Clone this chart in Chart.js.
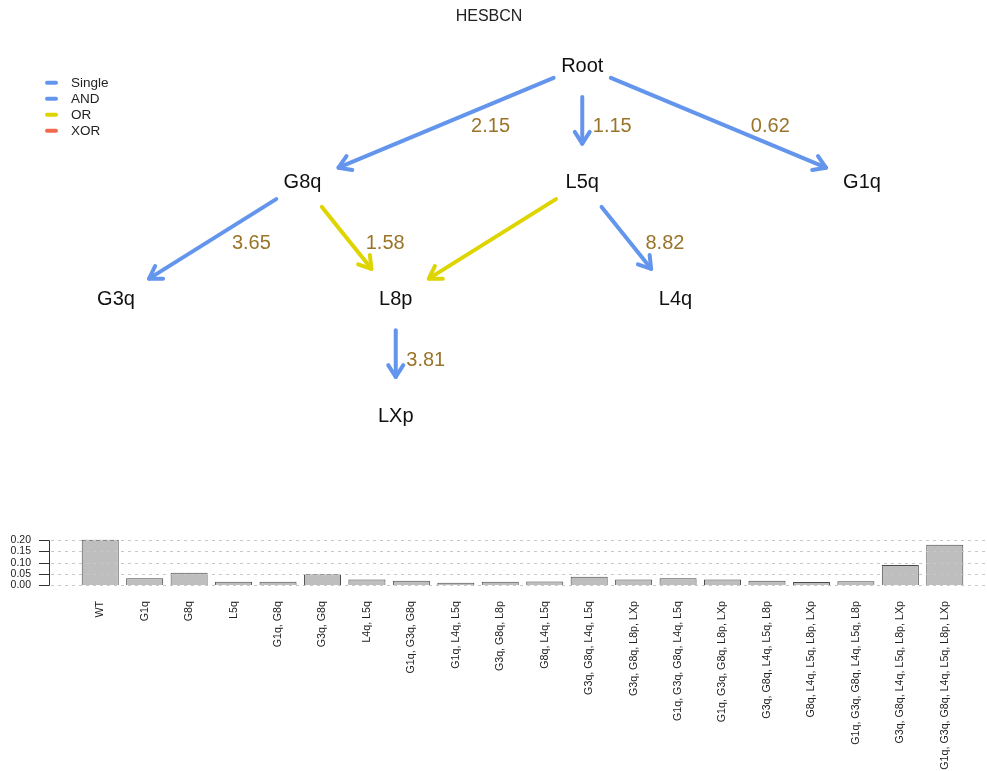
<!DOCTYPE html>
<html>
<head>
<meta charset="utf-8">
<script src="https://cdn.jsdelivr.net/npm/chart.js@4"></script>
<style>
  html, body { margin: 0; padding: 0; background: #fff; }
  #wrap { position: relative; width: 987px; height: 771px; overflow: hidden; }
  #dag { position: absolute; left: 0; top: 0; }
  #bars { position: absolute; left: 0; top: 480px; }
</style>
</head>
<body>
<div id="wrap">
  <canvas id="dag" width="987" height="480"></canvas>
  <canvas id="bars" width="987" height="291"></canvas>
</div>
<script>
// ---- HESBCN transition graph ----
const nodeNames = ['Root', 'G8q', 'L5q', 'G1q', 'G3q', 'L8p', 'L4q', 'LXp'];
const nodeLevel = [0, 1, 1, 1, 2, 2, 2, 3];          // depth in the DAG
const nodeCol   = [2.5, 1, 2.5, 4, 0, 1.5, 3, 1.5];  // layout column

const edgeFrom   = ['Root', 'Root', 'Root', 'G8q', 'G8q', 'L5q', 'L5q', 'L8p'];
const edgeTo     = ['G8q',  'L5q',  'G1q',  'G3q', 'L8p', 'L8p', 'L4q', 'LXp'];
const edgeType   = ['Single', 'Single', 'Single', 'Single', 'OR', 'OR', 'Single', 'Single'];
const edgeLambda = [2.15, 1.15, 0.62, 3.65, 1.58, null, 8.82, 3.81];

const relationTypes = ['Single', 'AND', 'OR', 'XOR'];
const relationColors = ['#6495ED', '#6495ED', '#DDD400', '#F4694C'];

// ---- genotype probabilities ----
const genotypes = [
  'WT', 'G1q', 'G8q', 'L5q', 'G1q, G8q', 'G3q, G8q', 'L4q, L5q', 'G1q, G3q, G8q',
  'G1q, L4q, L5q', 'G3q, G8q, L8p', 'G8q, L4q, L5q', 'G3q, G8q, L4q, L5q',
  'G3q, G8q, L8p, LXp', 'G1q, G3q, G8q, L4q, L5q', 'G1q, G3q, G8q, L8p, LXp',
  'G3q, G8q, L4q, L5q, L8p', 'G8q, L4q, L5q, L8p, LXp', 'G1q, G3q, G8q, L4q, L5q, L8p',
  'G3q, G8q, L4q, L5q, L8p, LXp', 'G1q, G3q, G8q, L4q, L5q, L8p, LXp'
];
const genotypeProb = [
  0.203, 0.030, 0.055, 0.015, 0.014, 0.048, 0.025, 0.019,
  0.010, 0.015, 0.016, 0.037, 0.025, 0.030, 0.025,
  0.019, 0.013, 0.017, 0.089, 0.180
];
const probTicks = [0, 0.05, 0.10, 0.15, 0.20];

const FONT = "'Liberation Sans', Arial, Helvetica, sans-serif";

// Draws arrows, edge rates, node names and the relation legend
const dagPlugin = {
  id: 'dagDraw',
  afterDatasetsDraw(chart) {
    const { ctx } = chart;
    const xs = chart.scales.x, ys = chart.scales.y;
    const pos = name => {
      const i = nodeNames.indexOf(name);
      return [xs.getPixelForValue(nodeCol[i]), ys.getPixelForValue(nodeLevel[i])];
    };
    ctx.save();
    ctx.lineCap = 'round';
    ctx.lineJoin = 'round';
    edgeFrom.forEach((from, i) => {
      const [x0, y0] = pos(from);
      const [x1, y1] = pos(edgeTo[i]);
      const dx = x1 - x0, dy = y1 - y0;
      const len = Math.hypot(dx, dy);
      const ux = dx / len, uy = dy / len;
      const sx = x0 + ux * 31, sy = y0 + uy * 31;
      const ex = x1 - ux * 39, ey = y1 - uy * 39;
      ctx.strokeStyle = relationColors[relationTypes.indexOf(edgeType[i])];
      ctx.lineWidth = 4;
      ctx.beginPath();
      ctx.moveTo(sx, sy);
      ctx.lineTo(ex, ey);
      ctx.stroke();
      // open arrow head
      const ang = Math.atan2(uy, ux);
      const arm = 14, spread = Math.PI * 0.18;
      ctx.beginPath();
      ctx.moveTo(ex - arm * Math.cos(ang - spread), ey - arm * Math.sin(ang - spread));
      ctx.lineTo(ex, ey);
      ctx.lineTo(ex - arm * Math.cos(ang + spread), ey - arm * Math.sin(ang + spread));
      ctx.stroke();
      // rate label to the right of the edge midpoint
      if (edgeLambda[i] !== null) {
        const mx = (x0 + x1) / 2, my = (y0 + y1) / 2;
        ctx.fillStyle = '#9a7428';
        ctx.font = '20px ' + FONT;
        ctx.textAlign = 'center';
        ctx.textBaseline = 'middle';
        ctx.fillText(edgeLambda[i].toFixed(2), mx + 30 + Math.abs(dx) * 0.065, my + 2.5);
      }
    });
    // node names
    ctx.fillStyle = '#111';
    ctx.font = '20px ' + FONT;
    ctx.textAlign = 'center';
    ctx.textBaseline = 'middle';
    nodeNames.forEach(n => {
      const [px, py] = pos(n);
      ctx.fillText(n, px, py);
    });
    // relation legend
    ctx.font = '13.5px ' + FONT;
    ctx.textAlign = 'left';
    relationTypes.forEach((t, i) => {
      const ly = 82.8 + i * 16;
      ctx.strokeStyle = relationColors[i];
      ctx.lineWidth = 4;
      ctx.beginPath();
      ctx.moveTo(47, ly);
      ctx.lineTo(56, ly);
      ctx.stroke();
      ctx.fillStyle = '#222';
      ctx.fillText(t, 71, ly);
    });
    ctx.restore();
  }
};

new Chart(document.getElementById('dag'), {
  type: 'scatter',
  data: {
    datasets: [{
      data: nodeNames.map((n, i) => ({ x: nodeCol[i], y: nodeLevel[i] })),
      pointRadius: 0,
      pointHoverRadius: 0
    }]
  },
  options: {
    responsive: false,
    devicePixelRatio: 1,
    animation: false,
    events: [],
    layout: { padding: { left: 116, right: 125, top: 0, bottom: 64 } },
    plugins: {
      legend: { display: false },
      tooltip: { enabled: false },
      title: {
        display: true,
        text: 'HESBCN',
        color: '#222',
        font: { family: FONT, size: 16, weight: 'normal' },
        padding: { top: 7, bottom: 39.8 }
      }
    },
    scales: {
      x: { type: 'linear', min: 0, max: 4, display: false },
      y: { type: 'linear', min: 0, max: 3, reverse: true, display: false }
    }
  },
  plugins: [dagPlugin]
});

// Dotted grid (drawn over the bars) and the left value axis
const barDecor = {
  id: 'barDecor',
  afterDatasetsDraw(chart) {
    const { ctx } = chart;
    const ys = chart.scales.y;
    ctx.save();
    ctx.strokeStyle = '#c8c8c8';
    ctx.lineWidth = 1.2;
    ctx.setLineDash([3, 4]);
    probTicks.forEach(v => {
      const py = Math.round(ys.getPixelForValue(v)) + 0.5;
      ctx.beginPath();
      ctx.moveTo(51, py);
      ctx.lineTo(chart.width, py);
      ctx.stroke();
    });
    ctx.setLineDash([]);
    ctx.strokeStyle = '#333';
    ctx.lineWidth = 1;
    const yTop = Math.round(ys.getPixelForValue(probTicks[probTicks.length - 1])) + 0.5;
    const yBot = Math.round(ys.getPixelForValue(probTicks[0])) + 0.5;
    ctx.beginPath();
    ctx.moveTo(49.5, yTop);
    ctx.lineTo(49.5, yBot);
    probTicks.forEach(v => {
      const py = Math.round(ys.getPixelForValue(v)) + 0.5;
      ctx.moveTo(39, py);
      ctx.lineTo(49.5, py);
    });
    ctx.stroke();
    ctx.restore();
  }
};

new Chart(document.getElementById('bars'), {
  type: 'bar',
  data: {
    labels: genotypes,
    datasets: [{
      data: genotypeProb,
      backgroundColor: '#bebebe',
      borderColor: '#4a4a4a',
      borderWidth: 1,
      barPercentage: 0.833,
      categoryPercentage: 1,
      clip: false
    }]
  },
  options: {
    responsive: false,
    devicePixelRatio: 1,
    animation: false,
    events: [],
    layout: { padding: { left: 7, right: 20, top: 60.3, bottom: 0 } },
    plugins: { legend: { display: false }, tooltip: { enabled: false } },
    scales: {
      x: {
        grid: { display: false, drawTicks: false },
        border: { display: false },
        ticks: {
          autoSkip: false,
          maxRotation: 90,
          minRotation: 90,
          padding: 16,
          color: '#222',
          font: { family: FONT, size: 10.7 }
        },
        afterFit: s => { s.height = 186; }
      },
      y: {
        min: 0,
        max: 0.2,
        afterBuildTicks: s => { s.ticks = probTicks.map(v => ({ value: v })); },
        grid: { display: false, drawTicks: false },
        border: { display: false },
        ticks: {
          autoSkip: false,
          padding: 47,
          color: '#222',
          font: { family: FONT, size: 10.5 },
          callback: v => Number(v).toFixed(2)
        },
        afterFit: s => { s.width = 71; }
      }
    }
  },
  plugins: [barDecor]
});
</script>
</body>
</html>
